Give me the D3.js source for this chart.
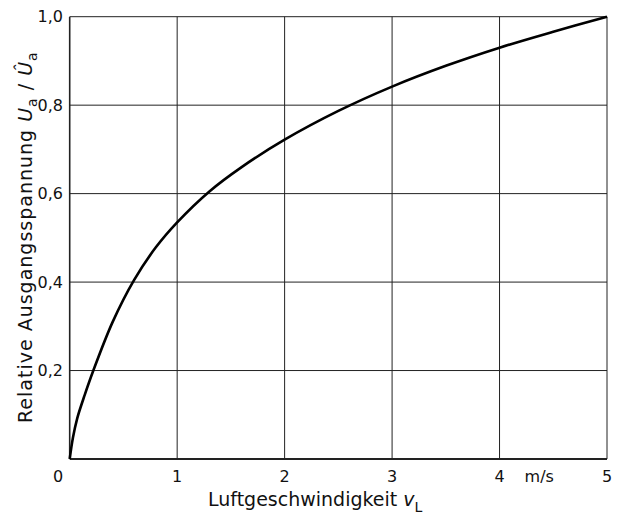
<!DOCTYPE html>
<html>
<head>
<meta charset="utf-8">
<script src="https://cdn.jsdelivr.net/npm/d3@7"></script>
<style>
  html, body { margin: 0; padding: 0; background: #fff; }
  svg { display: block; }
  text { font-family: "DejaVu Sans", sans-serif; fill: #111; }
</style>
</head>
<body>
<svg id="chart" width="626" height="516"></svg>
<script>
// Data
const speed = [0, 0.03, 0.07, 0.14, 0.22, 0.4, 0.6, 0.8, 1, 1.3, 1.6, 2, 2.5, 3, 3.5, 4, 4.5, 5];
const relVoltage = [0, 0.048, 0.092, 0.145, 0.2, 0.31, 0.405, 0.478, 0.535, 0.605, 0.66, 0.722, 0.787, 0.842, 0.889, 0.93, 0.966, 1.0];
const xTicks = [1, 2, 3, 4, 5];
const xTickLabels = ["1", "2", "3", "4", "5"];
const yTicks = [0.2, 0.4, 0.6, 0.8, 1.0];
const yTickLabels = ["0,2", "0,4", "0,6", "0,8", "1,0"];
const xGrid = [0, 1, 2, 3, 4, 5];
const yGrid = [0, 0.2, 0.4, 0.6, 0.8, 1.0];

const svg = d3.select("#chart");
const x = d3.scaleLinear().domain([0, 5]).range([69.7, 607]);
const y = d3.scaleLinear().domain([0, 1]).range([459, 16.7]);

// Grid
const g = svg.append("g");
g.selectAll("line.vx").data(xGrid).join("line")
  .attr("x1", d => x(d)).attr("x2", d => x(d))
  .attr("y1", y(0)).attr("y2", y(1))
  .attr("stroke", "#222").attr("stroke-width", d => (d === 0 ? 1.6 : 1));
g.selectAll("line.hy").data(yGrid).join("line")
  .attr("x1", x(0)).attr("x2", x(5))
  .attr("y1", d => y(d)).attr("y2", d => y(d))
  .attr("stroke", "#222").attr("stroke-width", d => (d === 0 ? 1.8 : 1));

// Curve
const pts = speed.map((v, i) => [v, relVoltage[i]]);
svg.append("path")
  .datum(pts)
  .attr("fill", "none")
  .attr("stroke", "#000")
  .attr("stroke-width", 2.6)
  .attr("stroke-linejoin", "round")
  .attr("d", d3.line().x(d => x(d[0])).y(d => y(d[1])).curve(d3.curveCatmullRom.alpha(0.5)));

// Tick labels
svg.selectAll("text.xt").data(xTicks).join("text")
  .attr("x", d => x(d)).attr("y", 482)
  .attr("text-anchor", "middle")
  .attr("font-size", 16)
  .text((d, i) => xTickLabels[i]);
svg.append("text").attr("x", 58).attr("y", 482).attr("text-anchor", "middle")
  .attr("font-size", 16).text("0");
svg.append("text").attr("x", (x(4) + x(5)) / 2 - 14).attr("y", 482).attr("text-anchor", "middle")
  .attr("font-size", 16).text("m/s");

svg.selectAll("text.yt").data(yTicks).join("text")
  .attr("x", 63).attr("y", d => y(d))
  .attr("dy", "0.36em")
  .attr("text-anchor", "end")
  .attr("font-size", 16)
  .text((d, i) => yTickLabels[i]);

// X title
const xt = svg.append("text").attr("x", 208).attr("y", 506).attr("font-size", 19);
xt.append("tspan").text("Luftgeschwindigkeit ");
xt.append("tspan").attr("font-style", "italic").text("v");
xt.append("tspan").attr("font-size", 14).attr("dy", 6).text("L");

// Y title
const yt = svg.append("text")
  .attr("transform", "translate(32,423) rotate(-90)")
  .attr("font-size", 19)
  .attr("letter-spacing", 1);
yt.append("tspan").text("Relative Ausgangsspannung ");
yt.append("tspan").attr("font-style", "italic").text("U");
yt.append("tspan").attr("font-size", 14).attr("dy", 5).text("a");
yt.append("tspan").attr("dy", -5).text(" / ");
yt.append("tspan").attr("font-style", "italic").text("Û");
yt.append("tspan").attr("font-size", 14).attr("dy", 5).text("a");
</script>
</body>
</html>
